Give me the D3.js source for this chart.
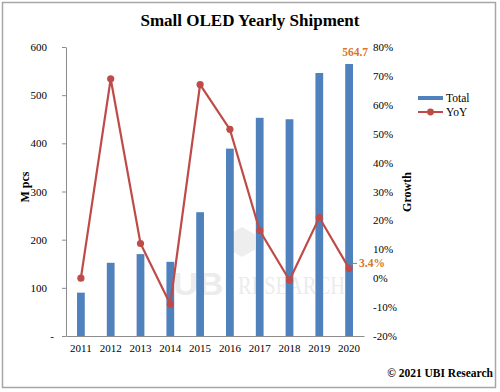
<!DOCTYPE html>
<html>
<head>
<meta charset="utf-8">
<script src="https://cdn.jsdelivr.net/npm/d3@7"></script>
<style>
  body { margin: 0; background: #fff; }
  svg { display: block; font-family: "Liberation Serif", "Times New Roman", serif; }
</style>
</head>
<body>
<svg width="500" height="392"></svg>
<script>
// dati
const years = ["2011", "2012", "2013", "2014", "2015", "2016", "2017", "2018", "2019", "2020"];
const totals = [90, 152, 170, 154, 257, 389, 453, 450, 546, 564.7];
const yoy = [0, 69, 12, -9, 67, 51.5, 16.5, -0.7, 21, 3.4];
const leftTicks = [0, 100, 200, 300, 400, 500, 600];
const rightTicks = [-20, -10, 0, 10, 20, 30, 40, 50, 60, 70, 80];

const barColor = "#4F81BD";
const lineColor = "#BE4B48";
const orange = "#D8762A";

const svg = d3.select("svg");

// cornice
svg.append("rect")
  .attr("x", 2.5).attr("y", 2.5)
  .attr("width", 493).attr("height", 385)
  .attr("fill", "none")
  .attr("stroke", "#a6a6a6")
  .attr("stroke-width", 1.5);

// scale
const x = d3.scaleBand()
  .domain(years)
  .range([66, 364])
  .paddingInner(0.74)
  .paddingOuter(0.37);

const y = d3.scaleLinear().domain([0, 600]).range([336, 47]);
const y2 = d3.scaleLinear().domain([-20, 80]).range([336, 47]);

// titolo
svg.append("text")
  .attr("x", 250).attr("y", 26)
  .attr("text-anchor", "middle")
  .style("font-size", "17px")
  .style("font-weight", "bold")
  .text("Small OLED Yearly Shipment");

// watermark
const wm = svg.append("g").attr("fill", "#ececec");
wm.append("text")
  .attr("x", 173).attr("y", 295)
  .style("font-family", "'Liberation Sans', Arial, sans-serif")
  .style("font-weight", "bold")
  .style("font-size", "32px")
  .attr("textLength", 60)
  .attr("lengthAdjust", "spacingAndGlyphs")
  .text("UBi");
wm.append("text")
  .attr("x", 238).attr("y", 294)
  .style("font-family", "'Liberation Serif', serif")
  .style("font-size", "26px")
  .attr("textLength", 107)
  .attr("lengthAdjust", "spacingAndGlyphs")
  .text("RESEARCH");
const hex = d3.range(6).map(i => {
  const a = Math.PI / 3 * i + Math.PI / 6;
  return [242 + 15 * Math.cos(a), 242 + 15 * Math.sin(a)];
});
wm.append("path")
  .attr("d", "M" + hex.join("L") + "Z")
  .attr("fill", "#eeeeee");

// asse sinistro
const gLeft = svg.append("g")
  .attr("transform", "translate(66,0)")
  .call(d3.axisLeft(y)
    .tickValues(leftTicks)
    .tickSizeInner(4)
    .tickSizeOuter(0)
    .tickPadding(15)
    .tickFormat(d => d === 0 ? "-" : d));
gLeft.select(".domain").attr("stroke", "#8c8c8c");
gLeft.selectAll(".tick line").attr("stroke", "#8c8c8c");
gLeft.selectAll(".tick text")
  .style("font-family", "'Liberation Serif', serif")
  .style("font-size", "11px")
  .attr("fill", "#000")
  .filter(d => d === 0).attr("x", -12);

// asse destro
const gRight = svg.append("g")
  .attr("transform", "translate(364,0)")
  .call(d3.axisRight(y2)
    .tickValues(rightTicks)
    .tickSize(0)
    .tickPadding(9)
    .tickFormat(d => d + "%"));
gRight.select(".domain").remove();
gRight.selectAll(".tick text")
  .style("font-family", "'Liberation Serif', serif")
  .style("font-size", "11px")
  .attr("fill", "#000");

// asse x
const gBottom = svg.append("g")
  .attr("transform", "translate(0,336)")
  .call(d3.axisBottom(x).tickSize(0).tickPadding(8));
gBottom.select(".domain").attr("stroke", "#8c8c8c");
gBottom.selectAll(".tick text")
  .style("font-family", "'Liberation Serif', serif")
  .style("font-size", "11px")
  .attr("fill", "#000");

// etichette assi
svg.append("text")
  .attr("transform", "translate(29,187) rotate(-90)")
  .attr("text-anchor", "middle")
  .style("font-size", "12px")
  .style("font-weight", "bold")
  .text("M pcs");
svg.append("text")
  .attr("transform", "translate(411,192) rotate(-90)")
  .attr("text-anchor", "middle")
  .style("font-size", "12px")
  .style("font-weight", "bold")
  .text("Growth");

// barre
svg.append("g")
  .selectAll("rect")
  .data(totals)
  .join("rect")
  .attr("x", (d, i) => x(years[i]))
  .attr("y", d => y(d))
  .attr("width", x.bandwidth())
  .attr("height", d => y(0) - y(d))
  .attr("fill", barColor);

// linea YoY
const cx = i => x(years[i]) + x.bandwidth() / 2;
const line = d3.line()
  .x((d, i) => cx(i))
  .y(d => y2(d));
svg.append("path")
  .datum(yoy)
  .attr("d", line)
  .attr("fill", "none")
  .attr("stroke", lineColor)
  .attr("stroke-width", 2.2);
svg.append("g")
  .selectAll("circle")
  .data(yoy)
  .join("circle")
  .attr("cx", (d, i) => cx(i))
  .attr("cy", d => y2(d))
  .attr("r", 3.6)
  .attr("fill", lineColor);

// annotazioni
const last = years.length - 1;
svg.append("text")
  .attr("x", cx(last) + 6).attr("y", y(totals[last]) - 8)
  .attr("text-anchor", "middle")
  .style("font-size", "11.5px")
  .style("font-weight", "bold")
  .attr("fill", orange)
  .text(totals[last]);
svg.append("path")
  .attr("d", `M${cx(last) + 2},${y2(yoy[last]) - 2}L${cx(last) + 4},${y2(yoy[last]) - 5}L${cx(last) + 8},${y2(yoy[last]) - 5}`)
  .attr("fill", "none")
  .attr("stroke", "#7f7f7f")
  .attr("stroke-width", 1);
svg.append("text")
  .attr("x", cx(last) + 10).attr("y", y2(yoy[last]) - 1)
  .style("font-size", "11.5px")
  .style("font-weight", "bold")
  .attr("fill", orange)
  .text(yoy[last] + "%");

// legenda
const lg = svg.append("g");
lg.append("rect")
  .attr("x", 418).attr("y", 96)
  .attr("width", 25).attr("height", 4)
  .attr("fill", barColor);
lg.append("text")
  .attr("x", 446).attr("y", 102)
  .style("font-size", "11.5px")
  .text("Total");
lg.append("line")
  .attr("x1", 418).attr("x2", 443)
  .attr("y1", 112).attr("y2", 112)
  .attr("stroke", lineColor)
  .attr("stroke-width", 2);
lg.append("circle")
  .attr("cx", 430.5).attr("cy", 112)
  .attr("r", 3.4)
  .attr("fill", lineColor);
lg.append("text")
  .attr("x", 446).attr("y", 116)
  .style("font-size", "11.5px")
  .text("YoY");

// footer
svg.append("text")
  .attr("x", 493).attr("y", 377)
  .attr("text-anchor", "end")
  .style("font-size", "11.5px")
  .style("font-weight", "bold")
  .text("© 2021 UBI Research");
</script>
</body>
</html>
